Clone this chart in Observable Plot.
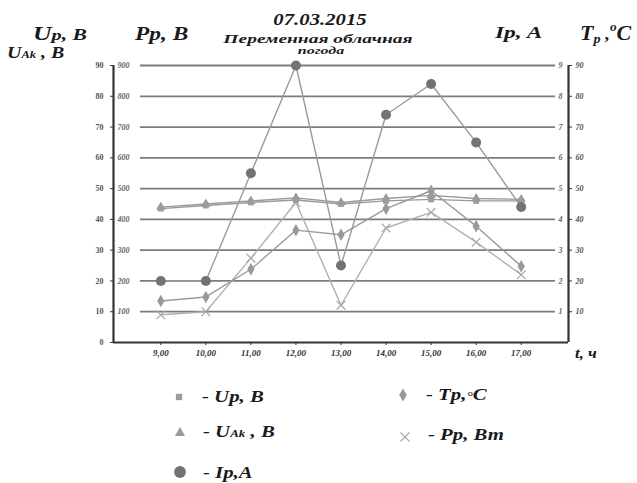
<!DOCTYPE html>
<html>
<head>
<meta charset="utf-8">
<script src="https://cdn.jsdelivr.net/npm/d3@7"></script>
<script src="https://cdn.jsdelivr.net/npm/@observablehq/plot@0.6"></script>
<style>
  body { margin: 0; background: #fff; }
  #wrap { position: relative; width: 637px; height: 483px; overflow: hidden; }
  #chart, #overlay { position: absolute; left: 0; top: 0; }
  #overlay { pointer-events: none; }
  #overlay text { font-family: "Liberation Serif", "Times New Roman", "DejaVu Serif", serif; }
</style>
</head>
<body>
<div id="wrap">
  <div id="chart"></div>
  <svg id="overlay" width="637" height="483"></svg>
</div>
<script>
// ---- data ----
const hours = [9, 10, 11, 12, 13, 14, 15, 16, 17];
const hourLabels = ["9,00", "10,00", "11,00", "12,00", "13,00", "14,00", "15,00", "16,00", "17,00"];
const upVolts  = [43.5, 44.5, 45.5, 46.3, 45.0, 46.0, 46.5, 46.0, 46.0];
const uakVolts = [44.0, 45.0, 46.0, 47.0, 45.5, 46.8, 47.8, 46.8, 46.5];
const ipAmps   = [2.0, 2.0, 5.5, 9.0, 2.5, 7.4, 8.4, 6.5, 4.4];
const tpDeg    = [13.5, 14.8, 23.8, 36.5, 35.0, 43.5, 49.3, 37.8, 24.8];
const ppWatts  = [90, 100, 274, 455, 121, 372, 423, 326, 220];
const leftTicks = [0, 10, 20, 30, 40, 50, 60, 70, 80, 90];
const ppTicks = [100, 200, 300, 400, 500, 600, 700, 800, 900];
const ipTicks = [1, 2, 3, 4, 5, 6, 7, 8, 9];
const tpTicks = [10, 20, 30, 40, 50, 60, 70, 80, 90];

const rows = hours.map((h, i) => ({
  h, up: upVolts[i], uak: uakVolts[i], ip: ipAmps[i], tp: tpDeg[i], pp: ppWatts[i]
}));

const serif = "Liberation Serif";
const lineC = "#9a9a9a";

const chart = Plot.plot({
  width: 637,
  height: 370,
  marginLeft: 113,
  marginRight: 69,
  marginTop: 65,
  marginBottom: 28,
  x: {domain: [7.95, 18.05], axis: null},
  y: {domain: [0, 90], axis: null},
  style: {fontFamily: serif, fontSize: "8px", color: "#555", background: "transparent"},
  marks: [
    Plot.ruleY(leftTicks.filter(d => d > 0), {y: d => d, stroke: "#7c7c7c", strokeWidth: 1.8, insetLeft: 27, insetRight: 13}),
    Plot.axisY(leftTicks, {anchor: "left", label: null, tickSize: 3, tickPadding: 7, fontWeight: "bold", fontSize: 8, stroke: "#333"}),
    Plot.text(ppTicks, {y: d => d / 10, text: d => String(d), frameAnchor: "left", textAnchor: "start", dx: 4, fontStyle: "italic", fontWeight: "bold", fontSize: 8, fill: "#666"}),
    Plot.axisY(tpTicks, {anchor: "right", label: null, tickSize: 3, tickPadding: 4, fontStyle: "italic", fontWeight: "bold", fontSize: 8, stroke: "#333"}),
    Plot.text(ipTicks, {y: d => d * 10, text: d => String(d), frameAnchor: "right", textAnchor: "end", dx: -6, fontStyle: "italic", fontWeight: "bold", fontSize: 8, fill: "#666"}),
    Plot.axisX(hours, {anchor: "bottom", label: null, tickSize: 3, tickPadding: 4, tickFormat: d => hourLabels[hours.indexOf(d)], fontStyle: "italic", fontWeight: "bold", fontSize: 9, stroke: "#333", fill: "#333"}),
    Plot.ruleX([7.95, 18.05], {stroke: "#333", strokeWidth: 2.2}),
    Plot.ruleY([0], {stroke: "#333", strokeWidth: 2.2}),
    // P_p (scaled /10)
    Plot.line(rows, {x: "h", y: d => d.pp / 10, stroke: "#b0b0b0", strokeWidth: 1.4}),
    Plot.dot(rows, {x: "h", y: d => d.pp / 10, symbol: "times", stroke: "#aaa", r: 4, strokeWidth: 1.3}),
    // T_p
    Plot.line(rows, {x: "h", y: "tp", stroke: lineC, strokeWidth: 1.4}),
    Plot.dot(rows, {x: "h", y: "tp", symbol: "diamond", fill: "#999", stroke: "none", r: 3.8}),
    // U_Ak
    Plot.line(rows, {x: "h", y: "uak", stroke: lineC, strokeWidth: 1.4}),
    Plot.dot(rows, {x: "h", y: "uak", symbol: "triangle", fill: "#999", stroke: "none", r: 3.5}),
    // U_p
    Plot.line(rows, {x: "h", y: "up", stroke: lineC, strokeWidth: 1.4}),
    Plot.dot(rows, {x: "h", y: "up", symbol: "square", fill: "#9c9c9c", stroke: "none", r: 3.3}),
    // I_p (scaled x10)
    Plot.line(rows, {x: "h", y: d => d.ip * 10, stroke: lineC, strokeWidth: 1.4}),
    Plot.dot(rows, {x: "h", y: d => d.ip * 10, fill: "#737373", stroke: "none", r: 5})
  ]
});
document.getElementById("chart").appendChild(chart);

// ---- titles, axis names, legend ----
const svg = d3.select("#overlay");
function label(x, y, size, parts, anchor = "start", sx = 1) {
  const t = svg.append("text")
    .attr("transform", `translate(${x},${y}) scale(${sx},1)`)
    .attr("text-anchor", anchor)
    .attr("font-weight", "bold")
    .attr("font-style", "italic")
    .attr("font-size", size)
    .attr("fill", "#1a1a1a");
  parts.forEach(p => {
    const s = t.append("tspan").text(p.t);
    if (p.size) s.attr("font-size", p.size);
    if (p.dy) s.attr("dy", p.dy);
  });
  return t;
}
label(320, 25, 17, [{t: "07.03.2015"}], "middle", 1.22);
label(318, 43, 13, [{t: "Переменная облачная"}], "middle", 1.5);
label(321, 54, 10, [{t: "погода"}], "middle", 1.6);
label(33, 40, 19, [{t: "U"}, {t: "p", size: 15}, {t: ", B", size: 16}], "start", 1.35);
label(135, 40, 18, [{t: "Pp, B"}], "start", 1.3);
label(7, 58, 16, [{t: "U"}, {t: "Ak", size: 10}, {t: " , B", size: 16}], "start", 1.25);
label(495, 38, 17, [{t: "Ip, A"}], "start", 1.38);
label(580, 40, 20, [{t: "T"}, {t: "p", size: 13, dy: 3}, {t: " ,", size: 17, dy: -3}, {t: "o", size: 12, dy: -9}, {t: "C", size: 20, dy: 9}], "start", 1.1);
label(575, 358, 14, [{t: "t, ч"}], "start", 1.2);

const legendItems = [
  {sym: d3.symbolSquare, size: 40, fill: "#9c9c9c", stroke: "none", x: 179, y: 397, ty: 402, parts: [{t: "- Up, B"}]},
  {sym: d3.symbolTriangle, size: 45, fill: "#999", stroke: "none", x: 180, y: 433, ty: 437, parts: [{t: "- U"}, {t: "Ak", size: 10}, {t: " , B"}]},
  {sym: d3.symbolCircle, size: 110, fill: "#737373", stroke: "none", x: 180, y: 472, ty: 478, parts: [{t: "- Ip,A"}]},
  {sym: d3.symbolDiamond, size: 50, fill: "#999", stroke: "none", x: 403, y: 395, ty: 400, parts: [{t: "- Tp,"}, {t: "°", size: 12}, {t: "C"}]},
  {sym: d3.symbolTimes, size: 55, fill: "none", stroke: "#aaa", x: 405, y: 437, ty: 440, parts: [{t: "- Pp, Вт"}]}
];
legendItems.forEach(it => {
  svg.append("path")
    .attr("d", d3.symbol(it.sym, it.size)())
    .attr("transform", `translate(${it.x},${it.y})`)
    .attr("fill", it.fill)
    .attr("stroke", it.stroke)
    .attr("stroke-width", 1.3);
  label(it.x + 23, it.ty, 16, it.parts, "start", 1.3);
});
</script>
</body>
</html>
